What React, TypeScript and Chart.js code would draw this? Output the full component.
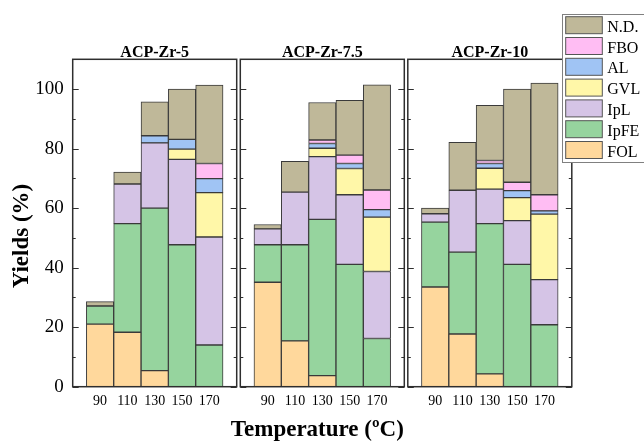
import React, { useEffect, useRef } from 'react';
import { Chart, registerables } from 'chart.js';

Chart.register(...registerables);

const FONT = "'Liberation Serif', 'Times New Roman', serif";

// ---------------- data ----------------
const temperatures = [90, 110, 130, 150, 170];
const xRange = [70, 190];
const yRange = [0, 110];
const yTicks = [0, 20, 40, 60, 80, 100];
const yMinorTicks = [10, 30, 50, 70, 90];
const panelTitles = ['ACP-Zr-5', 'ACP-Zr-7.5', 'ACP-Zr-10'];
const xTitle = 'Temperature (ºC)';
const yTitle = 'Yields (%)';
const seriesNames = ['FOL', 'IpFE', 'IpL', 'GVL', 'AL', 'FBO', 'N.D.'];
const seriesColors = ['#ffd89c', '#96d49e', '#d5c4e6', '#fff7a8', '#a0c4f4', '#ffbdf3', '#bfb899'];

// ACP-Zr-5
const zr5FOL = [21.0, 18.3, 5.4, 0, 0];
const zr5IpFE = [6.1, 36.5, 54.6, 47.7, 14.0];
const zr5IpL = [0, 13.3, 21.9, 28.7, 36.3];
const zr5GVL = [0, 0, 0, 3.4, 14.9];
const zr5AL = [0, 0, 2.4, 3.3, 4.7];
const zr5FBO = [0, 0, 0, 0, 5.1];
const zr5ND = [1.5, 4.0, 11.4, 16.9, 26.3];

// ACP-Zr-7.5
const zr75FOL = [35.1, 15.4, 3.7, 0, 0];
const zr75IpFE = [12.6, 32.3, 52.5, 41.1, 16.2];
const zr75IpL = [5.3, 17.7, 21.1, 23.4, 22.5];
const zr75GVL = [0, 0, 2.8, 8.8, 18.3];
const zr75AL = [0, 0, 1.6, 1.7, 2.5];
const zr75FBO = [0, 0, 1.2, 2.8, 6.6];
const zr75ND = [1.5, 10.3, 12.6, 18.4, 35.3];

// ACP-Zr-10
const zr10FOL = [33.5, 17.7, 4.3, 0, 0];
const zr10IpFE = [21.8, 27.5, 50.5, 41.1, 20.8];
const zr10IpL = [2.8, 20.8, 11.6, 14.7, 15.2];
const zr10GVL = [0, 0, 7.0, 7.7, 22.0];
const zr10AL = [0, 0, 1.6, 2.4, 1.1];
const zr10FBO = [0, 0, 1.0, 2.8, 5.4];
const zr10ND = [1.9, 16.1, 18.5, 31.3, 37.5];

const panelSeries = [
  [zr5FOL, zr5IpFE, zr5IpL, zr5GVL, zr5AL, zr5FBO, zr5ND],
  [zr75FOL, zr75IpFE, zr75IpL, zr75GVL, zr75AL, zr75FBO, zr75ND],
  [zr10FOL, zr10IpFE, zr10IpL, zr10GVL, zr10AL, zr10FBO, zr10ND],
];

// ---------------- layout ----------------
const W = 644;
const H = 441;
const panelLefts = [72.7, 240.3, 407.8];
const panelWidth = 164;
const plotTop = 59.3;
const plotBottom = 386.7;

function makeDecor(p: number) {
  const title = panelTitles[p];
  return {
    id: 'decor',
    afterDatasetsDraw(chart: any) {
      const { ctx, chartArea: a, scales } = chart;
      const y = scales.y;
      ctx.save();
      ctx.strokeStyle = '#2e2e2e';
      ctx.lineWidth = 1;
      const tick = (v: number, len: number) => {
        const py = Math.round(y.getPixelForValue(v)) + 0.5;
        ctx.beginPath();
        ctx.moveTo(a.left, py);
        ctx.lineTo(a.left + len, py);
        ctx.moveTo(a.right - len, py);
        ctx.lineTo(a.right, py);
        ctx.stroke();
      };
      yTicks.forEach((v) => tick(v, 6));
      yMinorTicks.forEach((v) => tick(v, 3));
      ctx.lineWidth = 1.5;
      ctx.strokeRect(a.left, a.top, a.right - a.left, a.bottom - a.top);
      ctx.fillStyle = '#000';
      ctx.font = `bold 16px ${FONT}`;
      ctx.textAlign = 'center';
      ctx.textBaseline = 'alphabetic';
      ctx.fillText(title, (a.left + a.right) / 2, a.top - 2);
      if (p === 1) {
        ctx.font = `bold 23px ${FONT}`;
        ctx.textBaseline = 'middle';
        ctx.fillText(xTitle, (a.left + a.right) / 2 - 5, 430);
      }
      if (p === 0) {
        ctx.save();
        ctx.translate(22, 236);
        ctx.rotate(-Math.PI / 2);
        ctx.font = `bold 23px ${FONT}`;
        ctx.textAlign = 'center';
        ctx.textBaseline = 'middle';
        ctx.fillText(yTitle, 0, 0);
        ctx.restore();
      }
      ctx.restore();
    },
    afterDraw(chart: any) {
      if (p !== 2) return;
      const { ctx } = chart;
      ctx.save();
      ctx.fillStyle = '#fff';
      ctx.fillRect(562.5, 14, 90, 148.5);
      ctx.strokeStyle = '#808080';
      ctx.lineWidth = 1;
      ctx.strokeRect(562.5, 14.5, 90, 148);
      const order = seriesNames.map((_, i) => i).reverse();
      order.forEach((k, row) => {
        const top = 16.7 + row * 20.8;
        ctx.fillStyle = seriesColors[k];
        ctx.fillRect(565.7, top, 36.6, 17);
        ctx.strokeStyle = '#555';
        ctx.strokeRect(565.7, top, 36.6, 17);
        ctx.fillStyle = '#000';
        ctx.font = `16px ${FONT}`;
        ctx.textAlign = 'left';
        ctx.textBaseline = 'alphabetic';
        ctx.fillText(seriesNames[k], 607.3, top + 15);
      });
      ctx.restore();
    },
  };
}

function buildChart(canvas: HTMLCanvasElement, p: number) {
  const series = panelSeries[p];
  const datasets = seriesNames.map((name, k) => ({
    label: name,
    data: temperatures.map((t, i) => ({ x: t, y: series[k][i] === 0 ? null : series[k][i] })),
    backgroundColor: seriesColors[k],
    borderColor: '#3a3a3a',
    borderWidth: 1,
    borderSkipped: false,
    barPercentage: 1,
    categoryPercentage: 1,
  }));
  const left = panelLefts[p];
  const right = left + panelWidth;
  const first = p === 0;
  return new Chart(canvas, {
    type: 'bar',
    data: { datasets } as any,
    plugins: [makeDecor(p)],
    options: {
      responsive: false,
      animation: false,
      events: [],
      layout: {
        padding: { left: first ? 0 : left, right: W - right, top: plotTop, bottom: 0 },
      },
      plugins: {
        legend: { display: false },
        tooltip: { enabled: false },
        title: { display: false },
      },
      scales: {
        x: {
          type: 'linear',
          stacked: true,
          offset: false,
          min: xRange[0],
          max: xRange[1],
          grid: { display: false, drawTicks: false, offset: false },
          border: { display: false },
          afterBuildTicks: (s: any) => {
            s.ticks = temperatures.map((v) => ({ value: v }));
          },
          afterFit: (s: any) => {
            s.height = H - plotBottom;
          },
          ticks: {
            autoSkip: false,
            maxRotation: 0,
            minRotation: 0,
            padding: 6,
            color: '#000',
            font: { family: FONT, size: 14 },
            callback: (v: any) => String(v),
          },
        },
        y: {
          type: 'linear',
          stacked: true,
          display: first,
          min: yRange[0],
          max: yRange[1],
          grid: { display: false, drawTicks: false },
          border: { display: false },
          afterBuildTicks: (s: any) => {
            s.ticks = yTicks.map((v) => ({ value: v }));
          },
          afterFit: (s: any) => {
            s.width = first ? panelLefts[0] : 0;
          },
          ticks: {
            padding: 9,
            color: '#000',
            font: { family: FONT, size: 19 },
          },
        },
      },
    } as any,
  });
}

export default function App() {
  const r0 = useRef<HTMLCanvasElement>(null);
  const r1 = useRef<HTMLCanvasElement>(null);
  const r2 = useRef<HTMLCanvasElement>(null);
  const refs = [r0, r1, r2];

  useEffect(() => {
    const charts = refs.map((r, i) => buildChart(r.current as HTMLCanvasElement, i));
    return () => charts.forEach((c) => c.destroy());
  }, []);

  return (
    <div style={{ position: 'absolute', left: 0, top: 0, width: W, height: H, background: '#fff' }}>
      {refs.map((r, i) => (
        <canvas
          key={i}
          ref={r}
          width={W}
          height={H}
          style={{ position: 'absolute', left: 0, top: 0, width: W, height: H }}
        />
      ))}
    </div>
  );
}
